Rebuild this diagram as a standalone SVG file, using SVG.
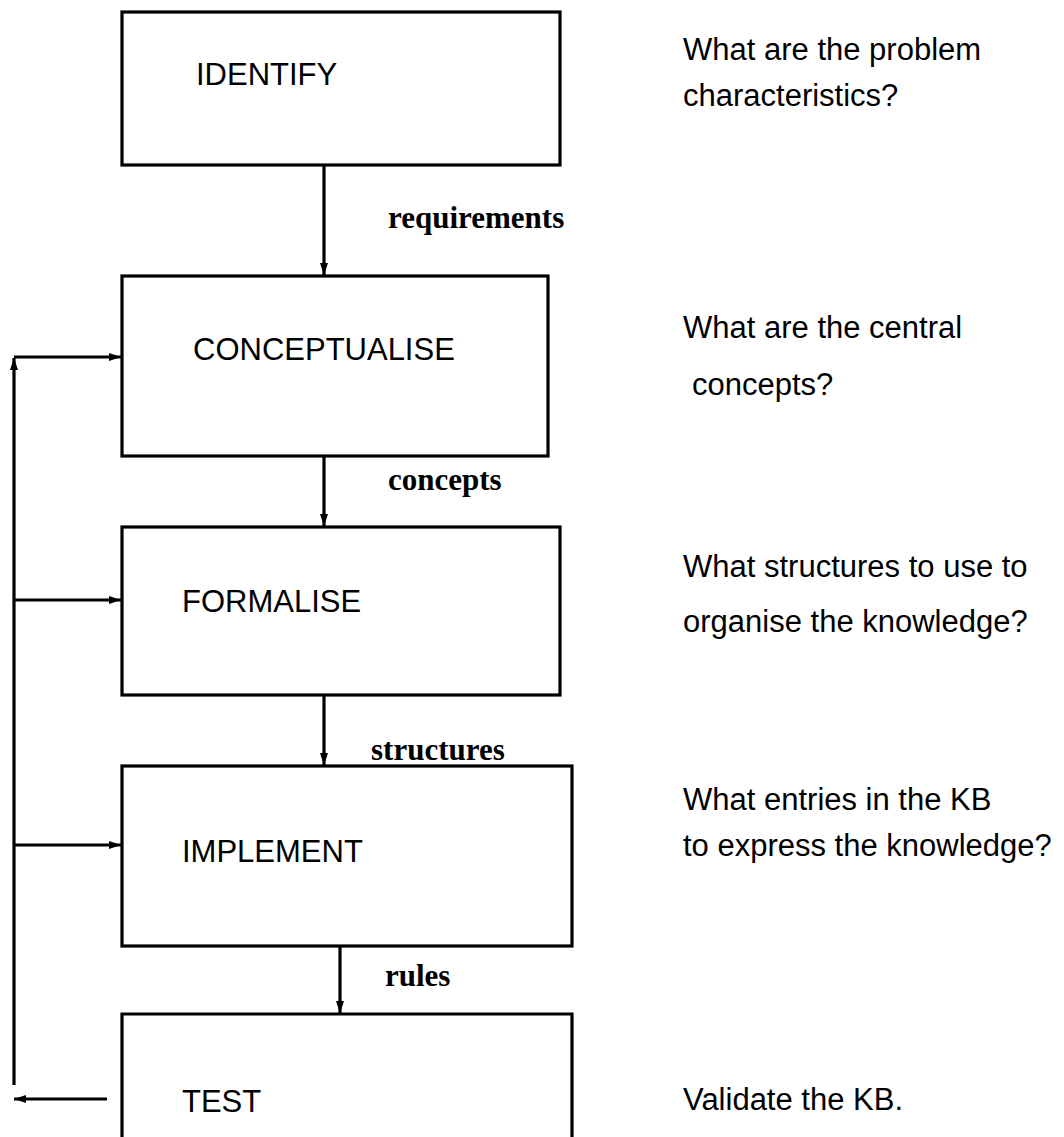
<svg xmlns="http://www.w3.org/2000/svg" width="1064" height="1137" viewBox="0 0 1064 1137">
  <style>
    .box { fill: none; stroke: #000; stroke-width: 3.2; }
    .wire { fill: none; stroke: #000; stroke-width: 3.2; }
    .stage { font-family: "Liberation Sans", Arial, sans-serif; font-size: 31px; fill: #000; }
    .flow { font-family: "Liberation Serif", "Times New Roman", serif; font-size: 31px; font-weight: bold; fill: #000; }
    .note { font-family: "Liberation Sans", Arial, sans-serif; font-size: 31px; fill: #000; }
  </style>
  <defs>
    <marker id="head" viewBox="0 0 12 8" refX="12" refY="4" markerWidth="12" markerHeight="8" markerUnits="userSpaceOnUse" orient="auto">
      <path d="M0,0 L12,4 L0,8 Z" fill="#000"/>
    </marker>
  </defs>
  <rect width="1064" height="1137" fill="#fff"/>

  <!-- stage boxes -->
  <g id="identify">
    <rect class="box" x="122" y="12" width="438" height="153"/>
    <text class="stage" x="196" y="85">IDENTIFY</text>
  </g>
  <g id="conceptualise">
    <rect class="box" x="122" y="276" width="426" height="180"/>
    <text class="stage" x="193" y="360">CONCEPTUALISE</text>
  </g>
  <g id="formalise">
    <rect class="box" x="122" y="527" width="438" height="168"/>
    <text class="stage" x="182" y="612">FORMALISE</text>
  </g>
  <g id="implement">
    <rect class="box" x="122" y="766" width="450" height="180"/>
    <text class="stage" x="182" y="862">IMPLEMENT</text>
  </g>
  <g id="test">
    <path class="box" d="M122,1140 V1014 H572 V1140"/>
    <text class="stage" x="182" y="1112">TEST</text>
  </g>

  <!-- questions beside each stage -->
  <g id="notes">
    <text class="note" x="683" y="60">What are the problem</text>
    <text class="note" x="683" y="106">characteristics?</text>
    <text class="note" x="683" y="338">What are the central</text>
    <text class="note" x="692" y="395">concepts?</text>
    <text class="note" x="683" y="577">What structures to use to</text>
    <text class="note" x="683" y="632">organise the knowledge?</text>
    <text class="note" x="683" y="810">What entries in the KB</text>
    <text class="note" x="683" y="856">to express the knowledge?</text>
    <text class="note" x="683" y="1110">Validate the KB.</text>
  </g>

  <!-- connectors -->
  <g id="connectors">
    <line class="wire" x1="324" y1="165" x2="324" y2="275" marker-end="url(#head)"/>
    <line class="wire" x1="324" y1="456" x2="324" y2="526" marker-end="url(#head)"/>
    <line class="wire" x1="324" y1="695" x2="324" y2="765" marker-end="url(#head)"/>
    <line class="wire" x1="340" y1="946" x2="340" y2="1013" marker-end="url(#head)"/>

    <!-- feedback from TEST back to earlier stages -->
    <line class="wire" x1="107" y1="1099" x2="14" y2="1099" marker-end="url(#head)"/>
    <line class="wire" x1="14" y1="1085" x2="14" y2="358" marker-end="url(#head)"/>
    <line class="wire" x1="14" y1="357" x2="121" y2="357" marker-end="url(#head)"/>
    <line class="wire" x1="14" y1="600" x2="121" y2="600" marker-end="url(#head)"/>
    <line class="wire" x1="14" y1="845" x2="121" y2="845" marker-end="url(#head)"/>
  </g>

  <g id="labels">
    <text class="flow" x="388" y="228">requirements</text>
    <text class="flow" x="388" y="490">concepts</text>
    <text class="flow" x="371" y="760">structures</text>
    <text class="flow" x="385" y="986">rules</text>
  </g>
</svg>
